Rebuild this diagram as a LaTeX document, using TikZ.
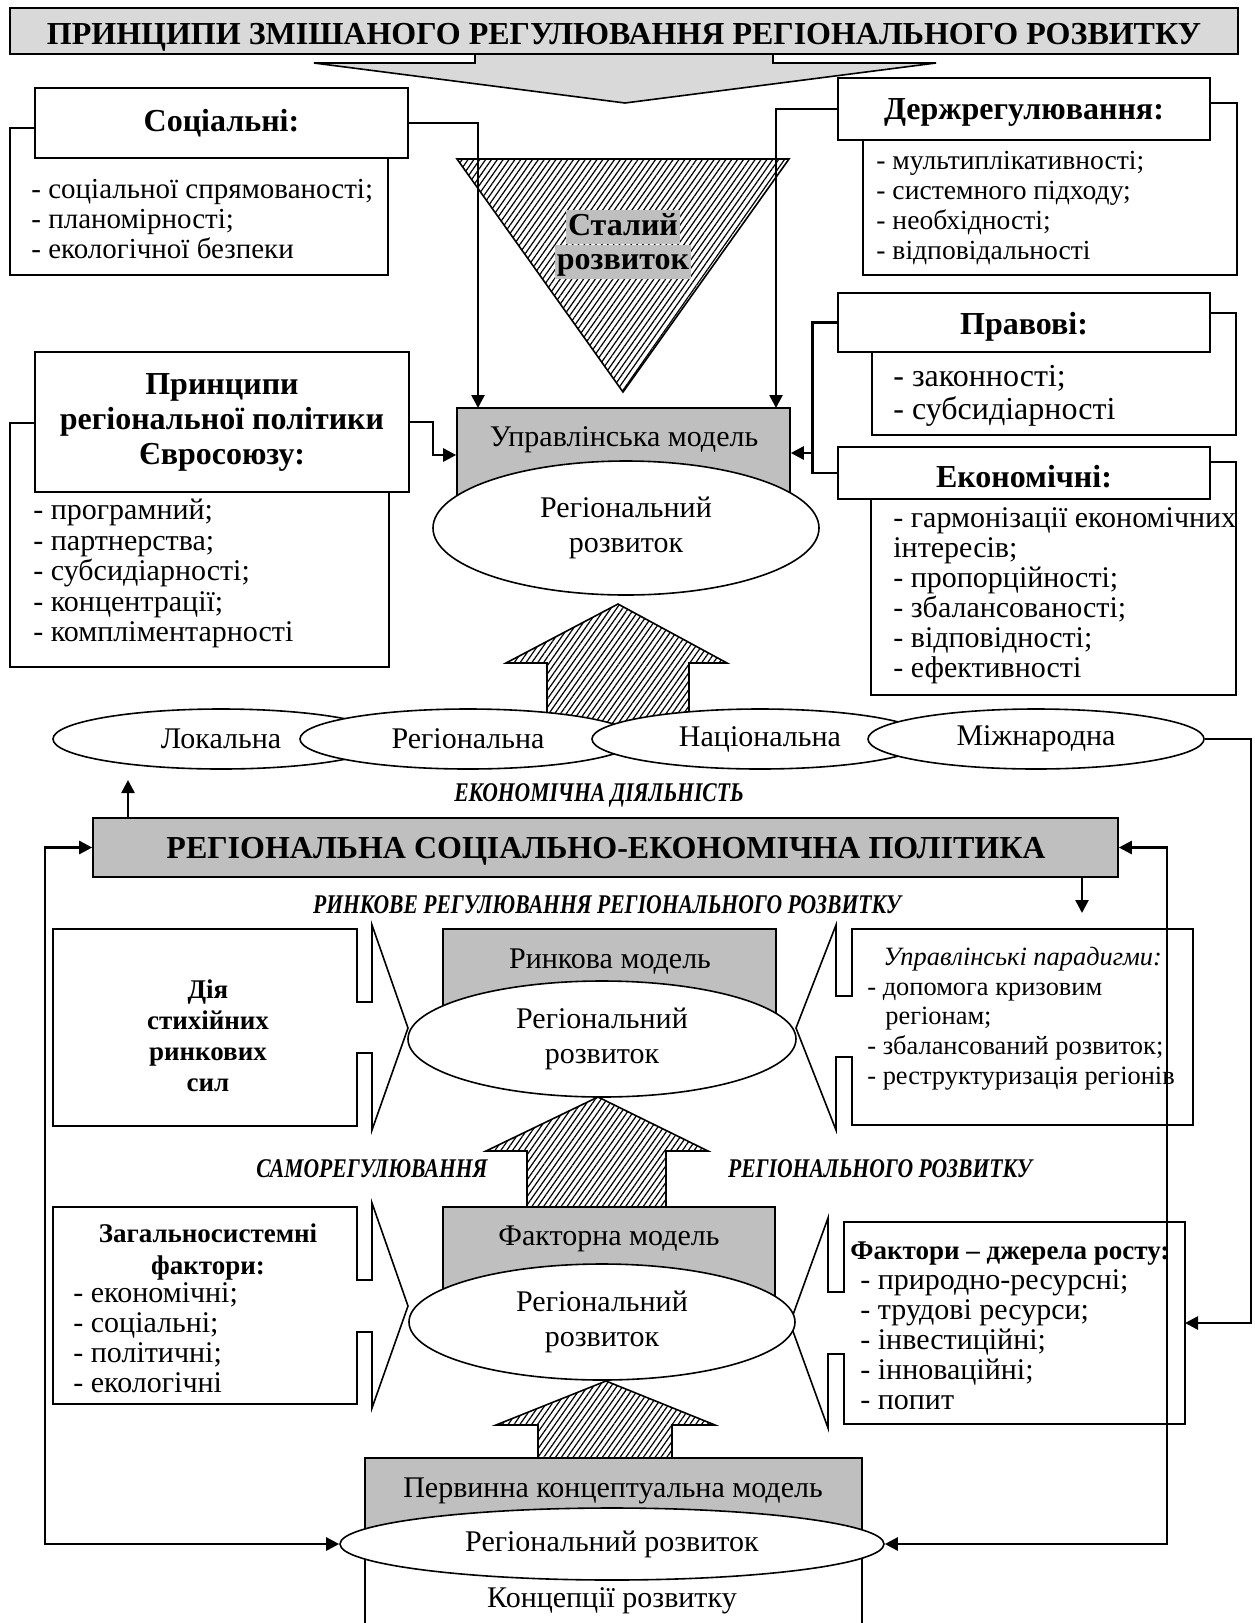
\documentclass[tikz,border=0pt]{standalone}
\usepackage{fontspec}
\setmainfont{Liberation Serif}
\usepackage{graphicx}
\usetikzlibrary{positioning, shapes.geometric, arrows.meta, patterns.meta, fit}
\newcommand{\fsz}[2]{\fontsize{#1}{#2}\selectfont}
\newcommand{\squeeze}[1]{\scalebox{0.8}[1]{#1}}
\tikzset{
>={Triangle[length=6.5pt,width=6.5pt]}, % solid arrow heads
box/.style={draw, line width=0.8pt, inner sep=0pt}, % plain frame
hdr/.style={box, fill=white}, % frame of a heading
hdrtext/.style={inner sep=0pt, align=center, font=\fsz{16}{17.5}\bfseries}, % heading of a group of principles
model/.style={box, fill=gray!50}, % grey model box
oval/.style={ellipse, draw, line width=0.8pt, fill=white, inner sep=0pt, align=center, font=\fsz{15}{17.5}}, % ellipse with text
tier/.style={oval, minimum width=168pt, minimum height=30pt}, % level of economic activity
items/.style={inner sep=0pt, anchor=north west, align=left, font=\fsz{15}{15}}, % list of items
link/.style={line width=1.3pt}, % connector
hatch/.style={draw, line width=0.8pt, pattern={Lines[angle=55,distance=2.4pt,line width=0.6pt]}}, % hatched shape
heading/.style={inner sep=0pt, font=\fsz{13.5}{14}\bfseries\itshape}, % italic heading between blocks
marked/.style={fill=gray!50, inner sep=1pt, text height=11.5pt, text depth=3.5pt, font=\fsz{16}{16}\bfseries}, % text on grey ground
}
\begin{document}
\begin{tikzpicture}[x=0.5pt, y=-0.5pt]
\useasboundingbox (0,0) rectangle (1254,1623);

\draw[line width=0.8pt, fill=gray!30] (475,54) -- (475,63) -- (314,63) -- (625,103) -- (936,63) -- (773,63) -- (773,54);
\node[box, fill=gray!30, fit={(10,8) (1238,54)}] (title) {};
\node[inner sep=0pt, font=\fsz{16}{18}\bfseries] (titlet) at (624,37) {ПРИНЦИПИ ЗМІШАНОГО РЕГУЛЮВАННЯ РЕГІОНАЛЬНОГО РОЗВИТКУ};

\node[box, fill=white, fit={(10,128) (388,275)}] (socb) {};
\node[hdr, fit={(35,88) (408,158)}] (soc) {};
\node[hdrtext] (soct) at (soc.center) {Соціальні:};
\node[items, font=\fsz{14.5}{15}] (socl) at (31,179) {- соціальної спрямованості;\\- планомірності;\\- екологічної безпеки};

\node[box, fill=white, fit={(863,103) (1237,275)}] (derzhb) {};
\node[hdr, fit={(838,78) (1210,140)}] (derzh) {};
\node[hdrtext, yshift=-1.5pt] (derzht) at (derzh.center) {Держрегулювання:};
\node[items, font=\fsz{13.8}{15}] (derzhl) at (876,151) {- мультиплікативності;\\- системного підходу;\\- необхідності;\\- відповідальності};

\node[box, fill=white, fit={(872,313) (1236,435)}] (pravb) {};
\node[hdr, fit={(838,293) (1210,352)}] (prav) {};
\node[hdrtext, yshift=-2pt] (pravt) at (prav.center) {Правові:};
\node[items, font=\fsz{16}{16.5}] (pravl) at (893,365) {- законності;\\- субсидіарності};

\node[box, fill=white, fit={(871,462) (1236,695)}] (ekonb) {};
\node[hdr, fit={(838,447) (1210,499)}] (ekon) {};
\node[hdrtext, yshift=-2pt] (ekont) at (ekon.center) {Економічні:};
\node[items] (ekonl) at (893,507) {- гармонізації економічних\\інтересів;\\- пропорційності;\\- збалансованості;\\- відповідності;\\- ефективності};

\node[box, fill=white, fit={(10,423) (389,667)}] (eurob) {};
\node[hdr, fit={(35,352) (409,492)}] (euro) {};
\node[hdrtext] (eurot) at (euro.center) {Принципи\\регіональної політики\\Євросоюзу:};
\node[items, font=\fsz{15}{15.2}] (eurol) at (33,499) {- програмний;\\- партнерства;\\- субсидіарності;\\- концентрації;\\- компліментарності};

\draw[hatch] (457,159) -- (789,159) -- (623,392) -- cycle;
\node[marked] (stal) at (623,227) {Сталий};
\node[marked, below=0pt of stal] (stalr) {розвиток};

\node[model, fit={(457,408) (790,525)}] (upr) {};
\node[font=\fsz{15}{16}] (uprt) at (624,440) {Управлінська модель};
\draw[hatch] (547,735) -- (547,663) -- (506,663) -- (618,604) -- (727,663) -- (689,663) -- (689,735);
\node[oval, minimum width=193pt, minimum height=67pt] (uprel) at (626,528) {Регіональний\\розвиток};

\coordinate (a1) at (478,408);
\coordinate (a2) at (776,408);
\coordinate (c1) at (433,455);
\coordinate (d1) at (813,453);
\draw[link, ->] (soc.east) -| (a1);
\draw[link, ->] (derzh.west) -| (a2);
\draw[link, ->] (euro.east) -| (c1) -- (c1 -| upr.west);
\draw[link] (prav.west) -- ++(-25,0) |- (ekon.west);
\draw[link, ->] (d1) -- (d1 -| upr.east);

\node[tier] (lok) at (221,739) {Локальна};
\node[tier] (reg) at (468,739) {Регіональна};
\node[tier] (nac) at (760,739) {Національна};
\node[tier] (mizh) at (1036,739) {Міжнародна};

\node[heading] (ekact) at (599,795) {\squeeze{ЕКОНОМІЧНА ДІЯЛЬНІСТЬ}};
\node[model, fit={(93,818) (1118,877)}] (policy) {};
\node[inner sep=0pt, font=\fsz{16}{18}\bfseries] (policyt) at (606,851) {РЕГІОНАЛЬНА СОЦІАЛЬНО-ЕКОНОМІЧНА ПОЛІТИКА};
\coordinate (f1) at (128,780);
\coordinate (g1) at (1082,913);
\draw[link, ->] (f1 |- policy.north) -- (f1);
\draw[link, ->] (g1 |- policy.south) -- (g1);
\node[heading] (rynreg) at (607,905) {\squeeze{РИНКОВЕ РЕГУЛЮВАННЯ РЕГІОНАЛЬНОГО РОЗВИТКУ}};

\draw[box, fill=white] (53,929) -- (357,929) -- (357,1002) -- (372,1002) -- (372,925) -- (408,1028) -- (372,1130) -- (372,1053) -- (357,1053) -- (357,1126) -- (53,1126) -- cycle;
\node[align=center, inner sep=0pt, font=\fsz{13.5}{15.5}\bfseries] (styk) at (208,1036) {Дія\\стихійних\\ринкових\\сил};
\draw[box, fill=white] (852,929) -- (1193,929) -- (1193,1125) -- (852,1125) -- (852,1057) -- (836,1057) -- (836,1130) -- (796,1028) -- (836,925) -- (836,996) -- (852,996) -- cycle;
\node[items, font=\fsz{13.2}{14.8}] (paradl) at (867,947) {\hspace*{8pt}\textit{Управлінські парадигми:}\\- допомога кризовим\\\hspace*{9pt}регіонам;\\- збалансований розвиток;\\- реструктуризація регіонів};
\node[model, fit={(443,929) (776,1035)}] (ryn) {};
\node[font=\fsz{15}{16}] (rynt) at (610,962) {Ринкова модель};
\node[oval, minimum width=194pt, minimum height=58pt] (rynel) at (602,1039) {Регіональний\\розвиток};

\draw[hatch] (527,1207) -- (527,1151) -- (486,1151) -- (598,1097) -- (708,1151) -- (666,1151) -- (666,1207);
\node[heading] (samo) at (372,1169) {\squeeze{САМОРЕГУЛЮВАННЯ}};
\node[heading] (regroz) at (880,1169) {\squeeze{РЕГІОНАЛЬНОГО РОЗВИТКУ}};

\draw[box, fill=white] (53,1207) -- (357,1207) -- (357,1280) -- (372,1280) -- (372,1203) -- (408,1306) -- (372,1408) -- (372,1332) -- (357,1332) -- (357,1404) -- (53,1404) -- cycle;
\node[align=center, inner sep=0pt, font=\fsz{13.5}{16}\bfseries] (zagh) at (208,1252) {Загальносистемні\\фактори:};
\node[items] (zagl) at (73,1282) {- економічні;\\- соціальні;\\- політичні;\\- екологічні};
\draw[box, fill=white] (844,1222) -- (1185,1222) -- (1185,1424) -- (844,1424) -- (844,1354) -- (828,1354) -- (828,1428) -- (790,1323) -- (828,1218) -- (828,1292) -- (844,1292) -- cycle;
\coordinate (faktr) at (1185,1323);
\node[items] (faktl) at (850,1241) {{\fsz{13.5}{15}\bfseries Фактори – джерела росту:}\\\hspace*{5pt}- природно-ресурсні;\\\hspace*{5pt}- трудові ресурси;\\\hspace*{5pt}- інвестиційні;\\\hspace*{5pt}- інноваційні;\\\hspace*{5pt}- попит};
\node[model, fit={(443,1207) (775,1320)}] (fakt) {};
\node[font=\fsz{15}{16}] (faktt) at (609,1239) {Факторна модель};
\node[oval, minimum width=193pt, minimum height=58pt] (faktel) at (602,1322) {Регіональний\\розвиток};

\draw[hatch] (538,1458) -- (538,1425) -- (496,1425) -- (606,1381) -- (715,1425) -- (672,1425) -- (672,1458);
\draw[box] (365,1545) -- (365,1623) (862,1545) -- (862,1623);
\node[model, fit={(365,1458) (862,1545)}] (perv) {};
\node[font=\fsz{15}{16}] (pervt) at (613,1491) {Первинна концептуальна модель};
\node[oval, minimum width=272pt, minimum height=36pt] (pervel) at (612,1544) {Регіональний розвиток};
\node[font=\fsz{15}{16}] (konc) at (612,1601) {Концепції розвитку};

\coordinate (e1) at (1251,739);
\coordinate (h1) at (45,1544);
\coordinate (i1) at (1167,1544);
\draw[link, ->] (mizh.east) -- (e1) |- (faktr);
\draw[link, <->] (policy.west) -| (h1) -- (pervel.west);
\draw[link, <->] (policy.east) -| (i1) -- (pervel.east);
\end{tikzpicture}
\end{document}
